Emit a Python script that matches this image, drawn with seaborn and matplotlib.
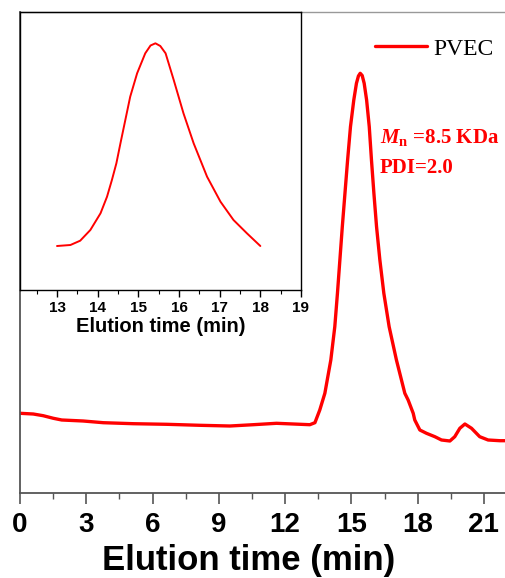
import matplotlib
matplotlib.use("Agg")
import matplotlib.pyplot as plt
import seaborn as sns
import numpy as np
import pandas as pd

# Main chromatogram (elution time in min, detector signal, arbitrary units)
main_time = [0.0, 0.6, 1.05, 1.51, 1.89, 2.86, 3.77, 5.13, 6.64, 8.14, 9.5, 10.56, 11.61,
             12.37, 13.12, 13.35, 13.57, 13.8, 14.07, 14.25, 14.37, 14.48, 14.59, 14.71,
             14.83, 14.96, 15.11, 15.23, 15.32, 15.4, 15.49, 15.58, 15.69, 15.81, 15.91,
             16.02, 16.14, 16.29, 16.47, 16.71, 17.04, 17.42, 17.57, 17.8, 17.87, 18.1,
             18.4, 18.78, 19.08, 19.46, 19.68, 19.91, 20.14, 20.44, 20.81, 21.19, 21.72,
             22.0]
main_signal = [79.7, 79.0, 77.3, 74.7, 73.0, 72.0, 70.3, 69.3, 68.7, 67.7, 67.0, 68.3, 69.7,
               69.0, 68.3, 70.3, 83.0, 99.7, 133.0, 166.3, 199.7, 233.0, 266.3, 299.7,
               333.0, 366.3, 393.0, 409.7, 417.0, 419.7, 417.5, 409.7, 393.0, 366.3, 333.0,
               299.7, 266.3, 233.0, 199.7, 166.3, 133.0, 99.7, 93.0, 79.7, 73.0, 63.0,
               59.7, 56.3, 53.0, 52.0, 56.3, 64.7, 69.0, 64.7, 56.3, 53.0, 52.3, 52.3]

# Inset: zoom on the main peak
inset_time = [13.0, 13.33, 13.57, 13.82, 14.07, 14.23, 14.35, 14.46, 14.56, 14.68, 14.8,
              14.97, 15.17, 15.3, 15.42, 15.54, 15.67, 15.87, 16.11, 16.36, 16.69, 17.02,
              17.34, 17.67, 18.0]
inset_signal = [44, 45, 49.3, 60, 76.7, 93.3, 110, 126.7, 146.7, 170, 193.3,
                216.7, 236.7, 244.5, 246.7, 244, 236.7, 210, 176.7, 146.7, 113.3, 88.3,
                70, 56.7, 44]

main_ticks = [0, 3, 6, 9, 12, 15, 18, 21]
inset_ticks = [13, 14, 15, 16, 17, 18, 19]
series_name = "PVEC"

sns.set_style("white")
plt.rcParams['font.family'] = ['Liberation Sans', 'DejaVu Sans']
plt.rcParams['text.color'] = 'black'
plt.rcParams['axes.labelcolor'] = 'black'
plt.rcParams['xtick.labelcolor'] = 'black'
plt.rcParams['mathtext.fontset'] = 'custom'
plt.rcParams['mathtext.rm'] = 'Liberation Serif:bold'
plt.rcParams['mathtext.it'] = 'Liberation Serif:italic:bold'
plt.rcParams['mathtext.bf'] = 'Liberation Serif:bold'

W, H = 506, 578
fig = plt.figure(figsize=(W / 100, H / 100), dpi=100)

ax = fig.add_axes([20 / W, (H - 493) / H, (506 - 20) / W, (493 - 12) / H])
df_main = pd.DataFrame({"t": main_time, "s": main_signal, "name": series_name})
sns.lineplot(data=df_main, x="t", y="s", hue="name", palette=["#ff0000"], lw=2.4, ax=ax,
             sort=False)
ax.set_xlim(0, 22)
ax.set_ylim(0, 481)
ax.set_xticks(main_ticks)
ax.set_xticks(np.arange(1.5, 22, 3), minor=True)
ax.set_yticks([])
ax.tick_params(axis='x', which='major', direction='out', length=8, width=1.2,
               color='#555555', labelcolor='black', bottom=True, pad=6)
ax.tick_params(axis='x', which='minor', direction='out', length=4, width=1.0,
               color='#555555', bottom=True)
for lab in ax.get_xticklabels():
    lab.set_fontsize(20)
    lab.set_fontweight('bold')
ax.set_xlabel("Elution time (min)", fontsize=25, fontweight='bold', color='black')
ax.xaxis.set_label_coords(0.471, -0.105)
ax.set_ylabel("")
ax.spines['left'].set_color('#555555')
ax.spines['left'].set_linewidth(1.3)
ax.spines['bottom'].set_color('#555555')
ax.spines['bottom'].set_linewidth(1.3)
ax.spines['top'].set_color('#999999')
ax.spines['top'].set_linewidth(1.0)
ax.spines['right'].set_visible(False)

leg = ax.legend(loc='upper right', bbox_to_anchor=(1.019, 0.99), frameon=False,
                prop={'family': 'Liberation Serif', 'size': 17},
                handlelength=2.2, handletextpad=0.3)
for line in leg.get_lines():
    line.set_linewidth(2.4)
for t in leg.get_texts():
    t.set_color('black')

fig.text(380 / W, 1 - 143 / H, r"$\mathit{M}_{\mathbf{n}}$ =8.5 KDa", color='#ff0000',
         fontsize=15, fontweight='bold', family='Liberation Serif', va='baseline')
fig.text(380 / W, 1 - 173 / H, "PDI=2.0", color='#ff0000',
         fontsize=15, fontweight='bold', family='Liberation Serif', va='baseline')

# Inset axes
ins = fig.add_axes([20 / W, (H - 290) / H, (301 - 20) / W, (290 - 12) / H])
df_in = pd.DataFrame({"t": inset_time, "s": inset_signal})
sns.lineplot(data=df_in, x="t", y="s", color="#ff0000", lw=1.4, ax=ins, sort=False)
ins.set_xlim(12.09, 19)
ins.set_ylim(0, 278)
ins.set_xticks(inset_ticks)
ins.set_xticks(np.arange(12.5, 19, 1.0), minor=True)
ins.set_yticks([])
ins.tick_params(axis='x', which='major', direction='out', length=5, width=1.0,
                color='black', labelcolor='black', bottom=True, pad=3)
ins.tick_params(axis='x', which='minor', direction='out', length=3, width=0.8,
                color='black', bottom=True)
for lab in ins.get_xticklabels():
    lab.set_fontsize(11)
    lab.set_fontweight('bold')
ins.set_xlabel("Elution time (min)", fontsize=14.5, fontweight='bold', labelpad=1,
               color='black')
ins.set_ylabel("")
for sp in ins.spines.values():
    sp.set_color('black')
    sp.set_linewidth(1.0)
ins.patch.set_alpha(0)

fig.savefig("out.png", dpi=100)
